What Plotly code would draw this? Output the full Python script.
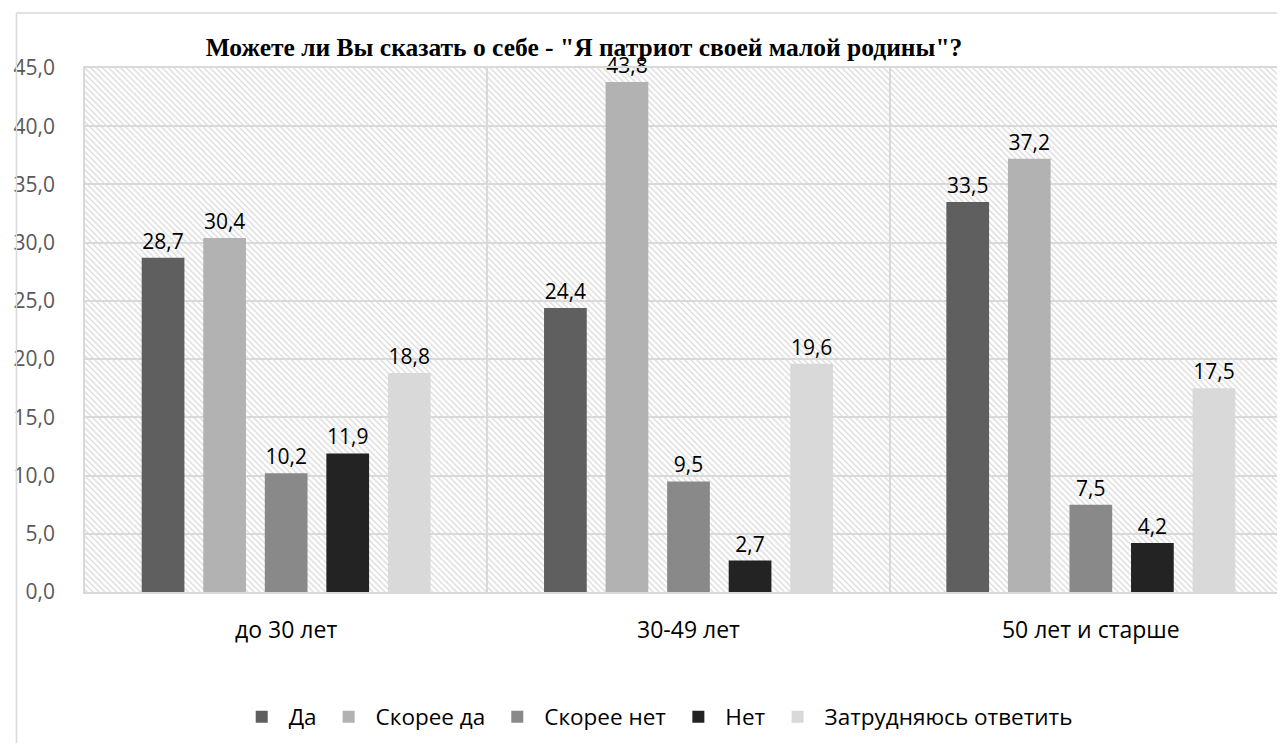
import plotly.graph_objects as go
import urllib.parse

categories = ["до 30 лет", "30-49 лет", "50 лет и старше"]
series_names = ["Да", "Скорее да", "Скорее нет", "Нет", "Затрудняюсь ответить"]
vals_da = [28.7, 24.4, 33.5]
vals_skoree_da = [30.4, 43.8, 37.2]
vals_skoree_net = [10.2, 9.5, 7.5]
vals_net = [11.9, 2.7, 4.2]
vals_zatrud = [18.8, 19.6, 17.5]
series_values = [vals_da, vals_skoree_da, vals_skoree_net, vals_net, vals_zatrud]
colors = ["#5f5f5f", "#b2b2b2", "#898989", "#232323", "#d9d9d9"]
y_ticks = [0, 5, 10, 15, 20, 25, 30, 35, 40, 45]

# page is offset by the default 8px body margin
OFF = 8
W, H = 1292, 743
ML, MR, MT, MB = 71, 6, 60, 159
PW, PH = W - ML - MR, H - MT - MB
PX0, PY0, PY1 = ML + OFF, MT + OFF, H - MB + OFF  # plot edges in page pixels

FONT = "Open Sans"

fig = go.Figure()
for name, vals, col in zip(series_names, series_values, colors):
    fig.add_trace(go.Bar(
        x=categories, y=vals, name=name,
        marker=dict(color=col, line=dict(width=0)),
        text=vals, texttemplate="%{y:.1f}", textposition="outside",
        textfont=dict(family=FONT, size=21, color="#000000"),
        cliponaxis=False,
    ))

# diagonal hatch background of the plot area
svg = (
    f'<svg xmlns="http://www.w3.org/2000/svg" width="{PW}" height="{PH}">'
    '<defs><pattern id="p" patternUnits="userSpaceOnUse" width="6" height="6">'
    '<path d="M-1,-1 L7,7 M-1,5 L1,7 M5,-1 L7,1" stroke="#dcdcdc" stroke-width="1.4"/>'
    '</pattern></defs>'
    f'<rect width="{PW}" height="{PH}" fill="url(#p)"/></svg>'
)
uri = "data:image/svg+xml;charset=utf-8," + urllib.parse.quote(svg)

def px(xp):
    return (xp - PX0) / PW

def py(yp):
    return (PY1 - yp) / PH

fig.update_layout(
    width=W, height=H,
    margin=dict(l=ML, r=MR, t=MT, b=MB, pad=0),
    paper_bgcolor="white", plot_bgcolor="white",
    separators=", ",
    barmode="group", bargap=0.235, bargroupgap=0.306,
    title=dict(
        text='<b>Можете ли Вы сказать о себе - "Я патриот своей малой родины"?</b>',
        font=dict(family="Liberation Serif", size=25.5, color="#000000"),
        x=(584 - OFF) / W, xref="container", xanchor="center",
        y=1 - (47 - OFF) / H, yref="container", yanchor="middle",
    ),
    font=dict(family=FONT, size=21, color="#000000"),
    legend=dict(
        orientation="h", x=px(654), xanchor="center",
        y=py(717), yanchor="middle",
        font=dict(family=FONT, size=22.5, color="#000000"),
        bgcolor="rgba(0,0,0,0)", itemwidth=44,
    ),
    images=[dict(source=uri, xref="paper", yref="paper", x=0, y=1,
                 sizex=1, sizey=1, sizing="stretch", layer="below",
                 xanchor="left", yanchor="top")],
    shapes=[
        dict(type="line", xref="paper", yref="paper",
             x0=px(10), x1=px(10), y0=py(760), y1=py(13),
             line=dict(color="#d9d9d9", width=1.5)),
        dict(type="line", xref="paper", yref="paper",
             x0=px(10), x1=1.01, y0=py(13), y1=py(13),
             line=dict(color="#d9d9d9", width=1.5)),
    ],
)

fig.update_xaxes(
    type="category", tickson="boundaries", ticks="",
    showgrid=True, gridcolor="#d9d9d9", gridwidth=1.5,
    showline=True, linecolor="#d9d9d9", linewidth=2, mirror=True,
    tickfont=dict(family=FONT, size=23, color="#000000"),
    ticklabelstandoff=16,
)
fig.update_yaxes(
    range=[0, 45], tickvals=y_ticks, tickformat=".1f",
    showgrid=True, gridcolor="#d9d9d9", gridwidth=1.5,
    showline=True, linecolor="#d9d9d9", linewidth=1.5, mirror=True,
    zeroline=False, ticks="",
    tickfont=dict(family=FONT, size=21, color="#595959"),
    ticklabelstandoff=24,
)

fig.write_html("out.html")
